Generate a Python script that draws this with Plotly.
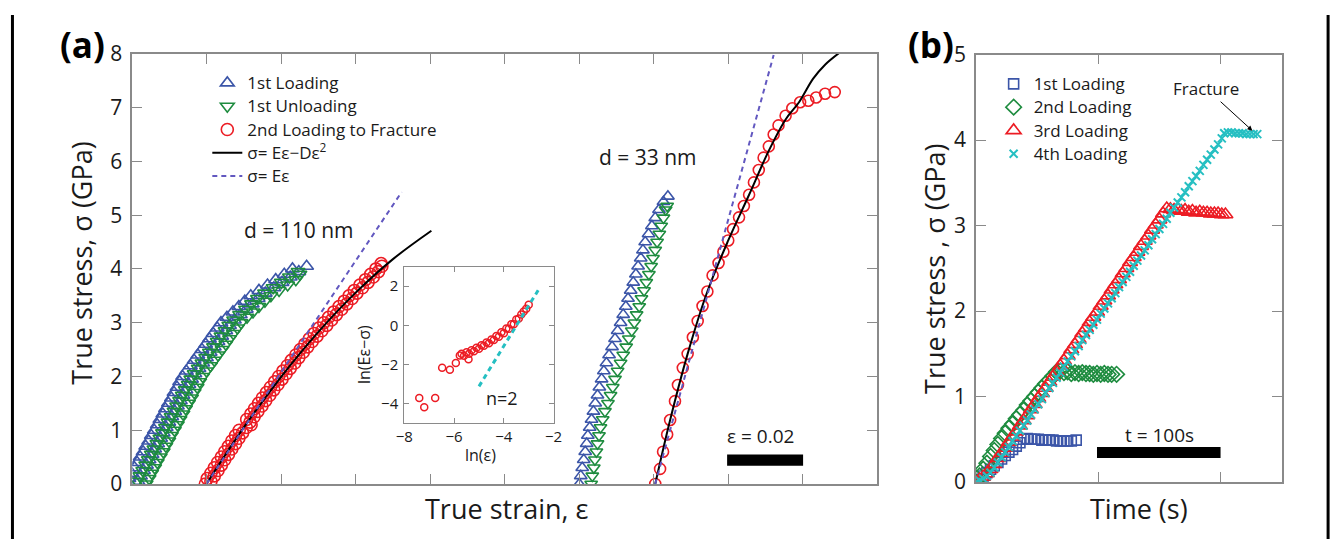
import plotly.graph_objects as go

W, H = 1344, 552
FONT = "Open Sans"

# ---------------- Panel (a) data : d = 110 nm ----------------
stress_110_fine = [0.00,0.05,0.10,0.15,0.20,0.25,0.30,0.35,0.40,0.45,0.50,0.55,0.60,0.65,0.70,0.75,0.80,0.85,
                   0.90,0.95,1.00,1.05,1.10,1.15,1.20,1.25,1.30,1.35,1.40,1.45,1.50,1.55,1.60,1.65,1.70,1.75,
                   1.80,1.85,1.90,1.95,2.00,2.05,2.10,2.15,2.20,2.25,2.30,2.35,2.40,2.45,2.50,2.55,2.60,2.65,
                   2.70,2.75,2.80,2.85,2.90,2.95,3.00,3.05,3.10,3.15,3.20,3.25,3.30,3.35,3.40,3.45,3.50,3.55,
                   3.60,3.65,3.70,3.75,3.80,3.85,3.90,3.95,4.00,4.05,4.10]
load1_110_stress = stress_110_fine[:82]
load1_110_strain = [-0.0017,0.0015,-0.0009,0.0022,-0.0002,0.0030,0.0006,0.0038,0.0013,0.0045,0.0021,0.0053,
                    0.0029,0.0060,0.0036,0.0068,0.0044,0.0076,0.0051,0.0083,0.0059,0.0091,0.0067,0.0098,
                    0.0074,0.0106,0.0082,0.0114,0.0089,0.0121,0.0097,0.0129,0.0105,0.0136,0.0112,0.0144,
                    0.0120,0.0152,0.0127,0.0159,0.0135,0.0168,0.0145,0.0179,0.0156,0.0189,0.0166,0.0199,
                    0.0176,0.0209,0.0187,0.0220,0.0197,0.0230,0.0207,0.0240,0.0217,0.0251,0.0228,0.0261,
                    0.0238,0.0274,0.0254,0.0290,0.0270,0.0306,0.0286,0.0322,0.0302,0.0338,0.0318,0.0357,
                    0.0340,0.0380,0.0363,0.0402,0.0385,0.0424,0.0408,0.0447,0.0430,0.0468]
unload1_110_stress = stress_110_fine[:80]
unload1_110_strain = [0.0037,0.0013,0.0045,0.0020,0.0052,0.0028,0.0060,0.0036,0.0067,0.0043,0.0075,0.0051,
                      0.0083,0.0058,0.0090,0.0066,0.0098,0.0074,0.0105,0.0081,0.0113,0.0089,0.0121,0.0096,
                      0.0128,0.0104,0.0136,0.0112,0.0143,0.0119,0.0151,0.0127,0.0159,0.0134,0.0166,0.0142,
                      0.0174,0.0150,0.0181,0.0157,0.0189,0.0166,0.0199,0.0177,0.0210,0.0187,0.0220,0.0197,
                      0.0230,0.0207,0.0241,0.0218,0.0251,0.0228,0.0261,0.0238,0.0271,0.0249,0.0282,0.0259,
                      0.0292,0.0272,0.0308,0.0288,0.0324,0.0304,0.0340,0.0320,0.0356,0.0336,0.0372,0.0355,
                      0.0394,0.0378,0.0417,0.0400,0.0439,0.0422,0.0450,0.0445]
load2_110_stress = stress_110_fine
load2_110_strain = [0.0196,0.0211,0.0201,0.0220,0.0211,0.0230,0.0220,0.0239,0.0229,0.0248,0.0239,0.0258,
                    0.0248,0.0267,0.0258,0.0277,0.0267,0.0286,0.0277,0.0296,0.0287,0.0306,0.0319,0.0316,
                    0.0307,0.0327,0.0318,0.0337,0.0328,0.0348,0.0339,0.0358,0.0349,0.0369,0.0360,0.0380,
                    0.0371,0.0391,0.0382,0.0402,0.0393,0.0413,0.0404,0.0424,0.0416,0.0436,0.0427,0.0447,
                    0.0439,0.0459,0.0451,0.0471,0.0463,0.0483,0.0475,0.0496,0.0488,0.0509,0.0501,0.0522,
                    0.0514,0.0535,0.0527,0.0548,0.0541,0.0562,0.0555,0.0576,0.0569,0.0590,0.0582,0.0603,
                    0.0596,0.0618,0.0611,0.0633,0.0626,0.0647,0.0640,0.0661,0.0654,0.0670,0.0668]
fit_110_strain = [0.0199,0.0299,0.0399,0.0499,0.0599,0.0699,0.0803]
fit_110_stress = [0.0,1.047,1.988,2.824,3.554,4.178,4.71]
lin_110_strain = [0.0199,0.0723]
lin_110_stress = [0.0,5.43]

# ---------------- Panel (a) data : d = 33 nm ----------------
load1_33_stress = [0.00,0.15,0.30,0.45,0.60,0.75,0.90,1.05,1.20,1.35,1.50,1.65,1.80,1.95,2.10,2.25,2.40,2.55,
                   2.70,2.85,3.00,3.15,3.30,3.45,3.60,3.75,3.90,4.05,4.20,4.35,4.50,4.65,4.80,4.95,5.10,5.25,5.35]
load1_33_strain = [0.1200,0.1204,0.1208,0.1212,0.1216,0.1220,0.1223,0.1228,0.1233,0.1238,0.1243,0.1249,
                   0.1254,0.1260,0.1266,0.1273,0.1280,0.1288,0.1296,0.1303,0.1311,0.1318,0.1325,0.1331,
                   0.1338,0.1345,0.1352,0.1358,0.1365,0.1371,0.1377,0.1386,0.1395,0.1404,0.1414,0.1426,0.1438]
unload1_33_stress = [0.00,0.15,0.30,0.45,0.60,0.75,0.90,1.05,1.20,1.35,1.50,1.65,1.80,1.95,2.10,2.25,2.40,2.55,
                     2.70,2.85,3.00,3.15,3.30,3.45,3.60,3.75,3.90,4.05,4.20,4.35,4.50,4.65,4.80,4.95,5.10,5.17]
unload1_33_strain = [0.1232,0.1235,0.1239,0.1242,0.1246,0.1249,0.1253,0.1257,0.1263,0.1269,0.1277,0.1284,
                     0.1290,0.1296,0.1303,0.1311,0.1318,0.1326,0.1333,0.1341,0.1348,0.1354,0.1361,0.1367,
                     0.1374,0.1380,0.1387,0.1393,0.1398,0.1404,0.1409,0.1415,0.1420,0.1426,0.1432,0.1436]
load2_33_strain = [0.1404,0.1417,0.1425,0.1436,0.1444,0.1457,0.1465,0.1478,0.1491,0.1505,0.1518,0.1531,
                   0.1544,0.1558,0.1574,0.1587,0.1600,0.1613,0.1629,0.1642,0.1656,0.1669,0.1682,0.1695,
                   0.1709,0.1722,0.1735,0.1754,0.1772,0.1793,0.1815,0.1836,0.1860,0.1886]
load2_33_stress = [0.00,0.28,0.60,0.92,1.19,1.54,1.84,2.16,2.42,2.73,3.03,3.31,3.58,3.88,4.11,4.32,4.53,
                   4.74,4.96,5.17,5.38,5.61,5.84,6.07,6.28,6.50,6.67,6.85,6.99,7.10,7.13,7.19,7.26,7.29]
fit_33_strain = [0.1404,0.1444,0.1491,0.1544,0.1600,0.1656,0.1709,0.1754,0.1790,0.1828,0.1860,0.1902]
fit_33_stress = [0.00,1.19,2.42,3.58,4.53,5.38,6.20,6.78,7.10,7.54,7.80,8.04]
lin_33_strain = [0.1404,0.1722]
lin_33_stress = [0.0,7.98]

# ---------------- Inset data ----------------
inset_ln_strain = [-7.40,-7.20,-6.76,-6.48,-6.17,-5.93,-5.77,-5.42,
                   -5.7,-5.6,-5.5,-5.4,-5.3,-5.2,-5.1,-5.0,-4.9,-4.8,-4.7,-4.6,-4.5,-4.4,-4.3,-4.2,
                   -4.1,-4.0,-3.9,-3.8,-3.7,-3.6,-3.5,-3.4,-3.3,-3.2,-3.1,-3.0]
inset_ln_diff = [-3.71,-4.19,-3.71,-2.17,-2.27,-1.93,-1.54,-1.73,
                 -1.45,-1.55,-1.38,-1.45,-1.28,-1.33,-1.15,-1.20,-1.02,-1.05,-0.88,-0.92,-0.72,-0.75,
                 -0.55,-0.58,-0.36,-0.40,-0.17,-0.18,0.05,0.05,0.30,0.35,0.55,0.70,0.85,1.05]
slope2_ln_strain = [-5.0,-2.62]
slope2_ln_diff = [-3.12,1.79]

# ---------------- Panel (b) data ----------------
b1_time = [0,3,6,9,12,15,18,21,24,27,30,33,36,39,42,45,48,51,54,57,60,63,66,69,72,75,78,82]
b1_stress = [0,0.03,0.07,0.11,0.15,0.19,0.23,0.27,0.31,0.35,0.38,0.42,0.46,0.50,0.51,0.50,0.50,0.50,
             0.49,0.49,0.49,0.49,0.48,0.48,0.48,0.48,0.48,0.49]
b2_time = [0,3,6,9,12,15,18,21,24,27,30,33,36,39,42,45,48,51,54,57,60,63,66,69,
           72,75,78,81,84,87,90,93,96,99,102,105,108,111,115]
b2_stress = [0.00,0.07,0.15,0.22,0.30,0.37,0.44,0.51,0.57,0.63,0.68,0.74,0.79,0.84,0.90,0.95,1.00,1.05,
             1.10,1.15,1.19,1.24,1.29,1.30,1.28,1.29,1.27,1.28,1.27,1.28,1.27,1.27,1.26,1.27,1.26,1.27,
             1.26,1.26,1.26]
b3_time = [0,3,6,9,12,15,18,21,24,27,30,33,36,39,42,45,48,51,54,57,60,63,66,69,72,75,78,81,84,87,90,
           93,96,99,102,105,108,111,114,117,120,123,126,129,132,135,138,141,144,147,150,153,156,
           159,162,165,168,171,174,177,180,183,186,189,192,195,198,201,204]
b3_stress = [0.00,0.03,0.06,0.10,0.15,0.21,0.28,0.34,0.40,0.47,0.53,0.59,0.66,0.72,0.78,0.85,0.91,0.98,
             1.04,1.10,1.17,1.23,1.29,1.36,1.42,1.48,1.55,1.61,1.67,1.74,1.80,1.87,1.93,1.99,2.06,2.12,
             2.18,2.25,2.31,2.37,2.44,2.50,2.57,2.63,2.69,2.76,2.82,2.88,2.95,3.01,3.07,3.14,3.20,
             3.19,3.18,3.19,3.17,3.18,3.16,3.17,3.15,3.16,3.15,3.15,3.14,3.14,3.14,3.13,3.13]
b4_time = [0,3,6,9,12,15,18,21,24,27,30,33,36,39,42,45,48,51,54,57,60,63,66,69,72,75,78,81,84,87,90,
           93,96,99,102,105,108,111,114,117,120,123,126,129,132,135,138,141,144,147,150,153,156,159,
           162,165,168,171,174,177,180,183,186,189,192,195,198,201,203,206,209,212,215,218,221,224,227,230]
b4_stress = [0.00,0.02,0.04,0.07,0.11,0.17,0.23,0.29,0.35,0.41,0.48,0.54,0.60,0.66,0.72,0.79,0.85,0.91,
             0.97,1.04,1.10,1.16,1.22,1.28,1.35,1.41,1.47,1.53,1.59,1.66,1.72,1.78,1.84,1.90,1.97,2.03,
             2.09,2.15,2.21,2.28,2.34,2.40,2.46,2.53,2.59,2.65,2.71,2.77,2.84,2.90,2.96,3.02,3.08,3.15,
             3.21,3.27,3.33,3.39,3.46,3.52,3.58,3.64,3.71,3.77,3.83,3.89,3.95,4.02,4.08,
             4.09,4.09,4.08,4.08,4.08,4.07,4.07,4.07,4.07]

# scale bars
bar_a_strain = [0.1597, 0.1801]
bar_a_stress = [0.34, 0.55]
bar_b_time = [99, 200]
bar_b_stress = [0.28, 0.41]

BLUE = "#3b55a8"
GREEN = "#1e8c3f"
RED = "#ec1c24"
PURPLE = "#6258c0"
CYAN = "#25bfc2"
GRAY = "#8a8a8a"


def PX(x):
    return x / W


def PY(y):
    return 1 - y / H


def LG(s):
    # legend label drawn a little larger than the (row-spacing) legend font
    return f'<span style="font-size:17px">{s}</span>'


fig = go.Figure()

# ---- panel (a) traces ----
fig.add_trace(go.Scatter(x=load1_110_strain, y=load1_110_stress, mode="markers", name=LG("1st Loading"),
                         marker=dict(symbol="triangle-up-open", size=12, color=BLUE, line=dict(width=1.6)),
                         xaxis="x", yaxis="y", legend="legend"))
fig.add_trace(go.Scatter(x=unload1_110_strain, y=unload1_110_stress, mode="markers", name=LG("1st Unloading"),
                         marker=dict(symbol="triangle-down-open", size=12, color=GREEN, line=dict(width=1.6)),
                         xaxis="x", yaxis="y", legend="legend"))
fig.add_trace(go.Scatter(x=load2_110_strain, y=load2_110_stress, mode="markers",
                         name=LG("2nd Loading to Fracture"),
                         marker=dict(symbol="circle-open", size=12, color=RED, line=dict(width=1.6)),
                         xaxis="x", yaxis="y", legend="legend"))
fig.add_trace(go.Scatter(x=load1_33_strain, y=load1_33_stress, mode="markers", showlegend=False,
                         marker=dict(symbol="triangle-up-open", size=11, color=BLUE, line=dict(width=1.6)),
                         xaxis="x", yaxis="y"))
fig.add_trace(go.Scatter(x=unload1_33_strain, y=unload1_33_stress, mode="markers", showlegend=False,
                         marker=dict(symbol="triangle-down-open", size=11, color=GREEN, line=dict(width=1.6)),
                         xaxis="x", yaxis="y"))
fig.add_trace(go.Scatter(x=load2_33_strain, y=load2_33_stress, mode="markers", showlegend=False,
                         marker=dict(symbol="circle-open", size=11, color=RED, line=dict(width=1.6)),
                         xaxis="x", yaxis="y"))
fig.add_trace(go.Scatter(x=fit_110_strain, y=fit_110_stress, mode="lines", name=LG("σ= Eε−Dε<sup>2</sup>"),
                         line=dict(color="black", width=2, shape="spline"),
                         xaxis="x", yaxis="y", legend="legend"))
fig.add_trace(go.Scatter(x=lin_110_strain, y=lin_110_stress, mode="lines", name=LG("σ= Eε"),
                         line=dict(color=PURPLE, width=2, dash="5px,4px"),
                         xaxis="x", yaxis="y", legend="legend"))
fig.add_trace(go.Scatter(x=fit_33_strain, y=fit_33_stress, mode="lines", showlegend=False,
                         line=dict(color="black", width=2, shape="spline"), xaxis="x", yaxis="y"))
fig.add_trace(go.Scatter(x=lin_33_strain, y=lin_33_stress, mode="lines", showlegend=False,
                         line=dict(color=PURPLE, width=2, dash="5px,4px"), xaxis="x", yaxis="y"))

# ---- inset ----
fig.add_trace(go.Scatter(x=inset_ln_strain, y=inset_ln_diff, mode="markers", showlegend=False,
                         marker=dict(symbol="circle-open", size=7, color=RED, line=dict(width=1.5)),
                         xaxis="x3", yaxis="y3"))
fig.add_trace(go.Scatter(x=slope2_ln_strain, y=slope2_ln_diff, mode="lines", showlegend=False,
                         line=dict(color=CYAN, width=3, dash="5px,4px"), xaxis="x3", yaxis="y3"))

# ---- panel (b) ----
fig.add_trace(go.Scatter(x=b1_time, y=b1_stress, mode="markers", name=LG("1st Loading"),
                         marker=dict(symbol="square-open", size=10, color=BLUE, line=dict(width=1.6)),
                         xaxis="x2", yaxis="y2", legend="legend2"))
fig.add_trace(go.Scatter(x=b2_time, y=b2_stress, mode="markers", name=LG("2nd Loading"),
                         marker=dict(symbol="diamond-open", size=12, color=GREEN, line=dict(width=1.6)),
                         xaxis="x2", yaxis="y2", legend="legend2"))
fig.add_trace(go.Scatter(x=b3_time, y=b3_stress, mode="markers", name=LG("3rd Loading"),
                         marker=dict(symbol="triangle-up-open", size=13, color=RED, line=dict(width=1.6)),
                         xaxis="x2", yaxis="y2", legend="legend2"))
fig.add_trace(go.Scatter(x=b4_time, y=b4_stress, mode="markers", name=LG("4th Loading"),
                         marker=dict(symbol="x-thin", size=8, color=CYAN, line=dict(width=2, color=CYAN)),
                         xaxis="x2", yaxis="y2", legend="legend2"))

axis_common = dict(showline=True, linecolor=GRAY, linewidth=1.5, mirror="ticks", ticks="inside",
                   ticklen=10, tickcolor=GRAY, tickwidth=1.2, showgrid=False, zeroline=False,
                   tickfont=dict(family=FONT, size=21, color="#1a1a1a"))
inset_axis = dict(showline=True, linecolor=GRAY, linewidth=1.2, mirror="ticks", ticks="inside", ticklen=5,
                  tickcolor=GRAY, showgrid=False, zeroline=False,
                  tickfont=dict(family=FONT, size=15, color="#1a1a1a"))

fig.update_layout(
    width=W, height=H, margin=dict(l=0, r=0, t=0, b=0),
    paper_bgcolor="white", plot_bgcolor="rgba(0,0,0,0)",
    font=dict(family=FONT, color="#1a1a1a"),
    xaxis=dict(domain=[PX(125), PX(880)], range=[0, 0.2], tickvals=[0.02 * i for i in range(11)],
               showticklabels=False, anchor="y", **axis_common),
    yaxis=dict(domain=[PY(494), PY(41)], range=[0, 8], dtick=1, anchor="x", ticklabelstandoff=4, **axis_common),
    xaxis2=dict(domain=[PX(980), PX(1290)], range=[0, 250], tickvals=[0, 100, 200],
                showticklabels=False, anchor="y2", **axis_common),
    yaxis2=dict(domain=[PY(492), PY(41.7)], range=[0, 5], dtick=1, anchor="x2", ticklabelstandoff=4, **axis_common),
    xaxis3=dict(domain=[PX(400.7), PX(552)], range=[-8, -2], tickvals=[-8, -6, -4, -2], anchor="y3",
                **inset_axis),
    yaxis3=dict(domain=[PY(430), PY(265)], range=[-5, 3], tickvals=[-4, -2, 0, 2], anchor="x3",
                ticklabelstandoff=2, **inset_axis),
    legend=dict(x=PX(201), y=PY(54), xanchor="left", yanchor="top", bgcolor="rgba(0,0,0,0)",
                font=dict(family=FONT, size=15.6, color="#1a1a1a"), tracegroupgap=0, itemwidth=30),
    legend2=dict(x=PX(998), y=PY(55), xanchor="left", yanchor="top", bgcolor="rgba(0,0,0,0)",
                 font=dict(family=FONT, size=15.6, color="#1a1a1a"), tracegroupgap=0, itemwidth=30),
)

# scale bars
fig.add_shape(type="rect", xref="x", yref="y", x0=bar_a_strain[0], x1=bar_a_strain[1],
              y0=bar_a_stress[0], y1=bar_a_stress[1], fillcolor="black", line=dict(width=0))
fig.add_shape(type="rect", xref="x2", yref="y2", x0=bar_b_time[0], x1=bar_b_time[1],
              y0=bar_b_stress[0], y1=bar_b_stress[1], fillcolor="black", line=dict(width=0))
# outer frame lines
fig.add_shape(type="line", xref="paper", yref="paper", x0=PX(3.5), x1=PX(3.5), y0=0, y1=1,
              line=dict(color="black", width=3))
fig.add_shape(type="line", xref="paper", yref="paper", x0=PX(1337), x1=PX(1337), y0=0, y1=1,
              line=dict(color="black", width=3))


def txt(text, x, y, size, angle=0, bold=False):
    fig.add_annotation(text=f"<b>{text}</b>" if bold else text, x=PX(x), y=PY(y), xref="paper", yref="paper",
                       showarrow=False, textangle=angle, xanchor="center", yanchor="middle",
                       font=dict(family=FONT, size=size, color="black" if bold else "#1a1a1a"))


txt("(a)", 75, 31, 35, bold=True)
txt("(b)", 935, 31, 35, bold=True)
txt("True strain, ε", 504, 520, 27)
txt("True stress, σ (GPa)", 74, 262, 27, angle=-90)
txt("True stress , σ (GPa)", 938, 267, 27, angle=-90)
txt("Time (s)", 1145, 520, 27)
txt("d = 110 nm", 294, 227, 21)
txt("d = 33 nm", 648, 150, 21)
txt("ε = 0.02", 762, 444, 19)
txt("t = 100s", 1166, 442, 19)
txt("n=2", 500, 403, 18)
txt("ln(ε)", 478, 463, 16)
txt("ln(Eε−σ)", 360, 358, 16, angle=-90)

fig.add_annotation(text="Fracture", x=226, y=4.11, xref="x2", yref="y2", ax=-46, ay=-42,
                   showarrow=True, arrowhead=2, arrowsize=1, arrowwidth=1, arrowcolor="black",
                   font=dict(family=FONT, size=17, color="#1a1a1a"))

fig.write_html("out.html")
